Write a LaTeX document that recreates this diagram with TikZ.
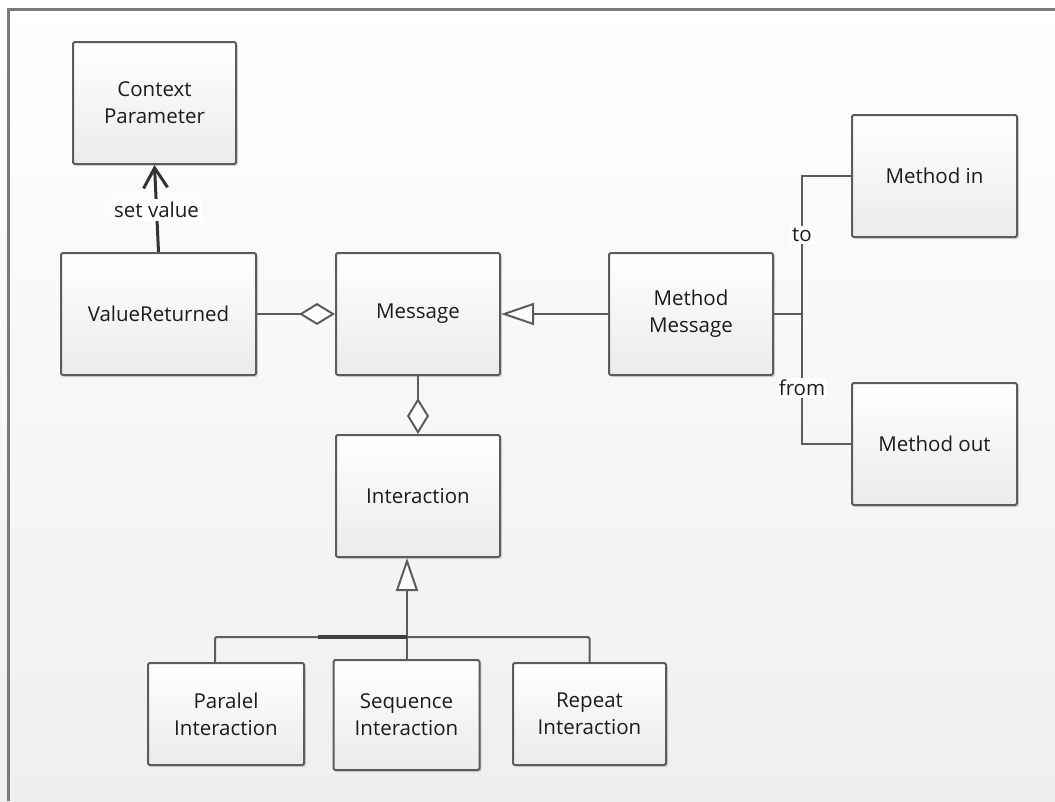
\documentclass[tikz,border=0pt]{standalone}
\usepackage{fontspec}
\setmainfont{Open Sans}
\usetikzlibrary{arrows.meta,shadows,calc}

\definecolor{edge}{HTML}{5C5C5C}
\definecolor{ink}{HTML}{1C1C1C}
\definecolor{boxtop}{HTML}{FFFFFF}
\definecolor{boxbot}{HTML}{EBEBEB}
\definecolor{bgtop}{HTML}{FFFFFF}
\definecolor{bgbot}{HTML}{EFEFEF}
\definecolor{framec}{HTML}{7A7A7A}

\tikzset{
  classbox/.style={draw=edge, line width=2pt, rounded corners=1.5pt,
    top color=boxtop, bottom color=boxbot, inner sep=0pt,
    align=center, text=ink, font=\fontsize{20.5}{27}\selectfont,
    drop shadow={shadow xshift=2pt, shadow yshift=-2pt, opacity=0.12, fill=black}},
  conn/.style={draw=edge, line width=2pt},
  agg/.style={conn, -{Diamond[length=36pt, width=22pt, fill=white]}},
  gen/.style={conn, -{Triangle[length=33pt, width=22pt, fill=white]}},
  assoc/.style={draw=black!80, line width=3pt,
    -{Straight Barb[length=20pt, width=24pt]}},
  lbl/.style={fill=white, inner sep=2pt, text=ink,
    font=\fontsize{20.5}{24}\selectfont},
}

\begin{document}
\begin{tikzpicture}[x=1pt, y=-1pt]
  % page and background
  \useasboundingbox (0,0) rectangle (1055,801);
  \shade[top color=bgtop, bottom color=bgbot] (0,0) rectangle (1055,801);
  \draw[framec, line width=3pt] (8,801) -- (8,9) -- (1055,9);

  % classes
  \node[classbox, minimum width=163pt, minimum height=122pt] (ctx)  at (154.5,103) {Context\\Parameter};
  \node[classbox, minimum width=195pt, minimum height=122pt] (vr)   at (158.5,314) {ValueReturned};
  \node[classbox, minimum width=164pt, minimum height=122pt] (msg)  at (418,314)   {Message};
  \node[classbox, minimum width=164pt, minimum height=122pt] (mm)   at (691,314)   {Method\\Message};
  \node[classbox, minimum width=165pt, minimum height=122pt] (min)  at (934.5,176) {Method in};
  \node[classbox, minimum width=165pt, minimum height=122pt] (mout) at (934.5,444) {Method out};
  \node[classbox, minimum width=164pt, minimum height=122pt] (inter) at (418,496)  {Interaction};
  \node[classbox, minimum width=156pt, minimum height=102pt] (par)  at (226,714)   {Paralel\\Interaction};
  \node[classbox, minimum width=146pt, minimum height=110pt] (seq)  at (406.5,715) {Sequence\\Interaction};
  \node[classbox, minimum width=153pt, minimum height=102pt] (rep)  at (589.5,714) {Repeat\\Interaction};

  % junction points
  \coordinate (bus) at (802,314);
  \coordinate (j)   at (407,637);
  \coordinate (k)   at (318,637);
  \coordinate (pin) at (215,663);

  % set value association
  \draw[assoc] (vr.north) -- node[pos=0.48, fill=white, inner sep=3pt, text=ink,
    font=\fontsize{20.5}{24}\selectfont] {set value} (ctx.south);

  % aggregations
  \draw[agg] (vr.east) -- (msg.west);
  \draw[agg] (msg.south) -- (inter.north);

  % generalisations
  \draw[gen] (mm.west) -- (msg.east);
  \draw[gen] (j) -- (inter.south -| j);

  % subclasses of Interaction
  \draw[conn, rounded corners=2pt] (pin) |- (j) -| (rep.north);
  \draw[conn] (seq.north) -- (seq.north |- j);
  \draw[draw=edge!70!black, line width=3.2pt] (k) -- (j);

  % method in / method out
  \draw[conn] (mm.east) -- (bus);
  \draw[conn] (min.west) -| (bus) |- (mout.west);
  \node[lbl] (to)   at (802,235) {to};
  \node[lbl] (from) at (802,388) {from};
\end{tikzpicture}
\end{document}
